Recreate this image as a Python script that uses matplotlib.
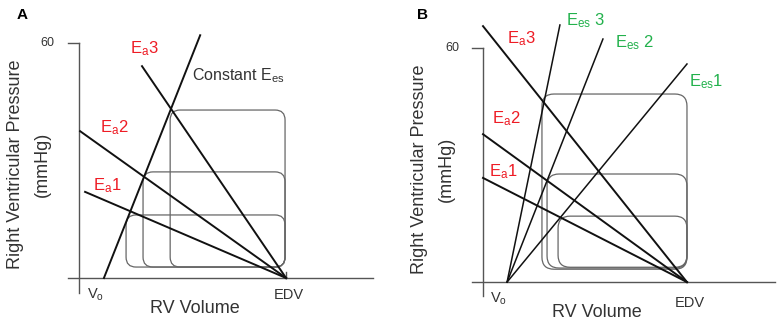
import matplotlib
matplotlib.use('Agg')
import matplotlib.pyplot as plt
from matplotlib.patches import FancyBboxPatch

plt.rcParams['font.family'] = ['Liberation Sans', 'DejaVu Sans']
plt.rcParams['mathtext.fontset'] = 'custom'
plt.rcParams['mathtext.rm'] = 'Liberation Sans'
plt.rcParams['mathtext.it'] = 'Liberation Sans:italic'

# volume in arbitrary units (EDV = 100), pressure in mmHg
edv = 100
p_top = 60

# panel A: constant Ees, rising Ea
a_v0 = 12
a_ees_end = (58.5, 62.0)
a_ea_start_v = [2.9, 0.5, 30.4]
a_ea_start_p = [22.0, 37.5, 54.1]
a_box_left = [22.7, 30.9, 44.0]
a_box_top = [16.1, 27.1, 42.9]
a_box_bottom = [2.8, 2.8, 2.8]
a_box_right = 99.5

# panel B: Ees rises with Ea
b_v0 = 11.8
b_ea_start_p = [26.7, 37.9, 65.6]
b_ees_end_v = [100, 58.8, 37.7]
b_ees_end_p = [55.9, 62.3, 65.9]
b_box_left = [36.8, 31.4, 28.9]
b_box_top = [16.9, 27.7, 48.2]
b_box_bottom = [3.8, 3.6, 3.3]
b_box_right = 100

red = '#ee1c25'
green = '#22b14c'
grey = '#555555'
txt = '#333333'

fig = plt.figure(figsize=(7.81, 3.25), dpi=100)

axA = fig.add_axes([0, 0, 390 / 781, 1])
axA.set_xlim(-38.2, 150.2)
axA.set_ylim(-12.0, 71.0)
axA.axis('off')

axB = fig.add_axes([390 / 781, 0, 391 / 781, 1])
axB.set_xlim(-45.6, 146.1)
axB.set_ylim(-11.0, 72.3)
axB.axis('off')


def frame(ax, v0, y_lo, x_hi, edv_y):
    ax.plot([0, 0], [y_lo, p_top], color=grey, lw=1)
    ax.plot([-5.3, x_hi], [0, 0], color=grey, lw=1)
    ax.plot([-5.3, 0], [p_top, p_top], color=grey, lw=1)
    ax.text(-11.8, p_top, '60', ha='right', va='center', fontsize=9, color=txt)
    ax.text(v0 - 4, -4.3, r'V$_\mathrm{o}$', ha='center', va='center', fontsize=10.5, color=txt)
    ax.text(edv + 1.5, edv_y, 'EDV', ha='center', va='center', fontsize=10.5, color=txt)
    ax.text(55.8, -7.8, 'RV Volume', ha='center', va='center', fontsize=13, color=txt)
    ax.text(-30.9, 29, 'Right Ventricular Pressure', rotation=90, ha='center', va='center',
            fontsize=13, color=txt)
    ax.text(-17.8, 29, '(mmHg)', rotation=90, ha='center', va='center', fontsize=13, color=txt)


def boxes(ax, lefts, tops, bottoms, right, r, aspect):
    for l, t, b in zip(lefts, tops, bottoms):
        ax.add_patch(FancyBboxPatch((l, b), right - l, t - b,
                                    boxstyle=f'round,pad=0,rounding_size={r}',
                                    mutation_aspect=aspect, fill=False,
                                    edgecolor='#666666', lw=0.9))


# ---- panel A
frame(axA, a_v0, -3.8, 142, -4.3)
axA.plot([edv, edv], [0, 1.5], color=grey, lw=1)
boxes(axA, a_box_left, a_box_top, a_box_bottom, a_box_right, 4.8, 0.528)
axA.plot([a_v0, a_ees_end[0]], [0, a_ees_end[1]], color='#111111', lw=1.4)
for v, p in zip(a_ea_start_v, a_ea_start_p):
    axA.plot([v, edv], [p, 0], color='#111111', lw=1.4)
axA.text(6.8, 23.7, r'E$_\mathrm{a}$1', color=red, fontsize=12, va='center')
axA.text(10.1, 38.5, r'E$_\mathrm{a}$2', color=red, fontsize=12, va='center')
axA.text(24.6, 58.7, r'E$_\mathrm{a}$3', color=red, fontsize=12, va='center')
axA.text(54.6, 51.6, r'Constant E$_\mathrm{es}$', color=txt, fontsize=11.5, va='center')
axA.text(-27.5, 67.2, 'A', fontsize=11, fontweight='bold', va='center', ha='center')

# ---- panel B
frame(axB, b_v0, -3.6, 143, -5.4)
boxes(axB, b_box_left, b_box_top, b_box_bottom, b_box_right, 5.9, 0.523)
for v, p in zip(b_ees_end_v, b_ees_end_p):
    axB.plot([b_v0, v], [0, p], color='#111111', lw=1.1)
for p in b_ea_start_p:
    axB.plot([0, edv], [p, 0], color='#111111', lw=1.4)
axB.text(2.9, 28.2, r'E$_\mathrm{a}$1', color=red, fontsize=12, va='center')
axB.text(4.4, 42.0, r'E$_\mathrm{a}$2', color=red, fontsize=12, va='center')
axB.text(11.8, 62.3, r'E$_\mathrm{a}$3', color=red, fontsize=12, va='center')
axB.text(101, 51.5, r'E$_\mathrm{es}$1', color=green, fontsize=12, va='center')
axB.text(64.7, 61.3, r'E$_\mathrm{es}$ 2', color=green, fontsize=12, va='center')
axB.text(40.7, 66.9, r'E$_\mathrm{es}$ 3', color=green, fontsize=12, va='center')
axB.text(-29.9, 68.5, 'B', fontsize=11, fontweight='bold', va='center', ha='center')

fig.savefig('out.png', dpi=100)
